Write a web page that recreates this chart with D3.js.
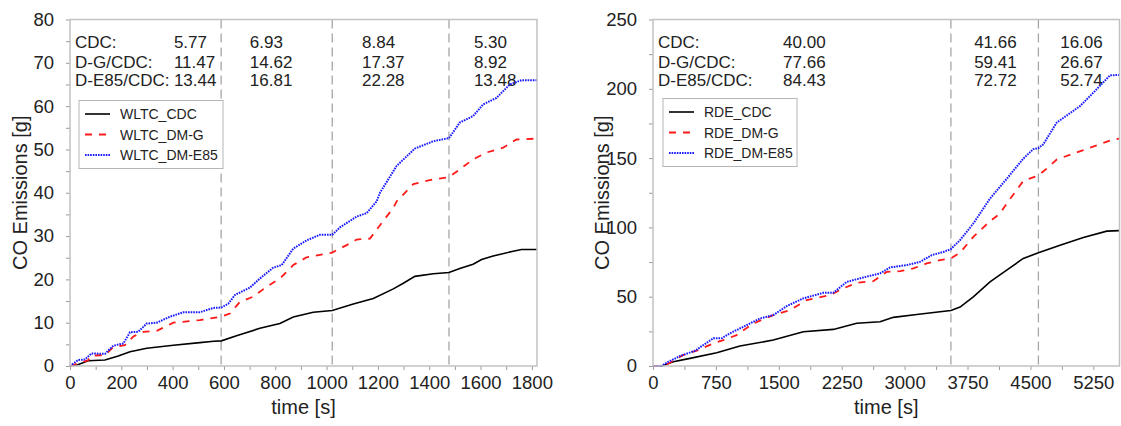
<!DOCTYPE html>
<html lang="en">
<head>
    <meta charset="utf-8">
    <style>
        body { margin: 0; background: #fff; }
        svg { font-family: "Liberation Sans", Arial, sans-serif; }
        .frame { fill: none; stroke: #c2c2c2; stroke-width: 1.5; }
        .tick line { stroke: #9a9a9a; }
        .tick text { fill: #222; font-size: 18.5px; }
        .axis .domain { display: none; }
        .title { fill: #222; font-size: 20px; }
        .note { fill: #222; font-size: 17px; }
        .phase { stroke: #a6a6a6; stroke-width: 1.3; stroke-dasharray: 9,5; }
        .legend rect { fill: #fff; stroke: #b5b5b5; stroke-width: 1; }
        .legend text { fill: #222; font-size: 14px; }
    </style>
    <script src="https://d3js.org/d3.v7.min.js"></script>
</head>
<body>
    <svg width="1121" height="426"></svg>
    <script>
        // ---- data ----
        var rowLabels = ["CDC:", "D-G/CDC:", "D-E85/CDC:"];

        var wltcPhases = [589, 1022, 1477];
        var wltcNotes = [
            ["5.77", "6.93", "8.84", "5.30"],
            ["11.47", "14.62", "17.37", "8.92"],
            ["13.44", "16.81", "22.28", "13.48"]
        ];
        var wltcSeries = ["WLTC_CDC", "WLTC_DM-G", "WLTC_DM-E85"];

        var wltcCDC = [[0,0],[30,0.3],[71,1.2],[136,1.4],[188,2.3],[234,3.3],[299,4.1],[403,4.8],[506,5.4],
            [560,5.7],[590,5.8],[649,7.0],[740,8.7],[818,9.8],[870,11.3],[948,12.4],[1022,12.8],[1104,14.3],
            [1182,15.6],[1260,17.8],[1299,19.1],[1344,20.7],[1416,21.3],[1477,21.6],[1519,22.5],[1571,23.5],
            [1604,24.6],[1649,25.4],[1727,26.5],[1760,26.9],[1820,26.9]];
        var wltcDMG = [[0,0],[52,1.0],[70,1.3],[84,2.4],[136,2.5],[169,4.4],[214,4.8],[247,6.8],[286,7.9],
            [338,8.1],[403,10.0],[506,10.6],[590,11.4],[623,12.1],[662,14.8],[714,16.0],[766,18.3],[818,20.2],
            [870,23.3],[922,25.1],[1022,26.2],[1078,27.9],[1117,29.2],[1169,29.4],[1208,32.5],[1260,36.5],
            [1273,38.0],[1338,42.0],[1416,43.1],[1477,43.6],[1519,45.4],[1571,47.7],[1624,49.3],[1688,50.4],
            [1740,52.3],[1820,52.5]];
        var wltcDME85 = [[0,0],[32,1.4],[58,1.5],[84,2.9],[136,2.8],[169,4.7],[208,5.2],[234,7.8],[266,7.9],
            [299,9.8],[338,10.0],[390,11.4],[442,12.4],[506,12.4],[558,13.4],[590,13.5],[617,14.4],[643,16.4],
            [701,18.1],[740,20.2],[792,22.7],[825,23.3],[870,27.1],[922,29.0],[974,30.3],[1022,30.3],[1052,32.0],
            [1104,34.0],[1117,34.5],[1156,35.3],[1195,38.0],[1208,40.0],[1273,46.2],[1344,50.2],[1416,51.9],
            [1477,52.6],[1519,56.2],[1571,57.7],[1610,60.4],[1662,61.9],[1714,65.0],[1760,66.0],[1820,66.0]];

        var rdePhases = [3552, 4595];
        var rdeNotes = [
            ["40.00", "41.66", "16.06"],
            ["77.66", "59.41", "26.67"],
            ["84.43", "72.72", "52.74"]
        ];
        var rdeSeries = ["RDE_CDC", "RDE_DM-G", "RDE_DM-E85"];

        var rdeCDC = [[0,0],[104,0],[242,3.1],[441,5.5],[760,9.6],[1037,14.4],[1434,18.7],[1792,24.7],
            [2150,26.4],[2429,30.8],[2707,31.9],[2866,35.1],[3144,37.2],[3422,39.1],[3552,40.0],[3661,42.5],
            [3819,49.9],[4018,60.7],[4217,69.2],[4415,77.6],[4595,81.7],[4853,87.2],[5131,92.7],[5410,97.3],
            [5560,97.7]];
        var rdeDMG = [[0,0],[123,0],[203,2.4],[361,7.9],[540,11.5],[719,16.3],[838,18.7],[997,22.3],
            [1196,30.7],[1434,36.7],[1633,40.3],[1832,47.6],[2110,51.1],[2269,56.0],[2429,60.0],[2627,61.2],
            [2786,67.9],[2945,68.4],[3104,70.4],[3263,74.0],[3422,76.4],[3552,77.7],[3661,81.8],[3819,93.2],
            [4018,104.5],[4137,110.0],[4217,117.2],[4415,133.5],[4595,137.5],[4694,142.4],[4813,149.0],
            [5131,155.8],[5488,163.5],[5560,164.0]];
        var rdeDME85 = [[0,0],[104,0],[163,2.4],[322,7.2],[501,11.0],[620,15.9],[719,20.0],[819,20.0],
            [918,23.6],[1077,28.3],[1276,34.3],[1434,36.7],[1594,43.2],[1792,48.8],[2031,52.8],[2150,52.8],
            [2310,60.7],[2508,63.9],[2707,66.8],[2826,71.1],[3025,72.8],[3184,75.1],[3323,80.0],[3462,82.3],
            [3552,84.4],[3661,90.8],[3819,102.8],[4018,120.8],[4217,135.0],[4415,149.6],[4534,156.5],
            [4595,157.2],[4654,160.0],[4813,175.6],[5091,187.5],[5250,197.2],[5449,209.7],[5560,210.0]];

        // ---- styles per series ----
        var styles = [
            { color: "#000", width: 1.6, dash: null },
            { color: "#ff1a1a", width: 1.8, dash: "7,7" },
            { color: "#1a1aff", width: 2, dash: "1.6,1" }
        ];

        var svg = d3.select("svg");

        function panel(opt) {
            var w = opt.width, h = 346.5;
            var g = svg.append("g").attr("transform", "translate(" + opt.left + ",19.5)");

            var x = d3.scaleLinear().domain([0, opt.xMax]).range([0, w]);
            var y = d3.scaleLinear().domain([0, opt.yMax]).range([h, 0]);

            // x axis (minor ticks unlabeled)
            g.append("g")
             .attr("class", "axis")
             .attr("transform", "translate(0," + h + ")")
             .call(d3.axisBottom(x)
                .tickValues(d3.range(0, opt.xMax, opt.xMinor))
                .tickSize(4).tickPadding(6)
                .tickFormat(function(d) { return d % opt.xMajor === 0 ? d : ""; }));

            g.append("g")
             .attr("class", "axis")
             .call(d3.axisLeft(y)
                .tickValues(d3.range(0, opt.yMax + 1, opt.yMinor))
                .tickSize(4).tickPadding(12)
                .tickFormat(function(d) { return d % opt.yMajor === 0 ? d : ""; }));

            g.append("text")
             .attr("class", "title")
             .attr("text-anchor", "middle")
             .attr("x", w / 2)
             .attr("y", 394.5)
             .text("time [s]");

            g.append("text")
             .attr("class", "title")
             .attr("text-anchor", "middle")
             .attr("transform", "translate(" + opt.yTitleX + "," + (h / 2) + ") rotate(-90)")
             .text("CO Emissions [g]");

            // phase separators
            g.selectAll(".phase")
             .data(opt.phases)
             .enter().append("line")
             .attr("class", "phase")
             .attr("x1", function(d) { return x(d); })
             .attr("x2", function(d) { return x(d); })
             .attr("y1", 0)
             .attr("y2", h);

            // per-phase numbers
            var rowY = [28.5, 48, 66.5];
            rowLabels.forEach(function(lab, i) {
                g.append("text").attr("class", "note")
                 .attr("x", 5).attr("y", rowY[i]).text(lab);
                opt.notes[i].forEach(function(v, j) {
                    g.append("text").attr("class", "note")
                     .attr("x", x(opt.noteAt[j])).attr("y", rowY[i]).text(v);
                });
            });

            var line = d3.line()
                .x(function(d) { return x(d[0]); })
                .y(function(d) { return y(d[1]); });

            opt.data.forEach(function(series, i) {
                g.append("path")
                 .datum(series)
                 .attr("fill", "none")
                 .attr("stroke", styles[i].color)
                 .attr("stroke-width", styles[i].width)
                 .attr("stroke-dasharray", styles[i].dash)
                 .attr("d", line);
            });

            g.append("rect")
             .attr("class", "frame")
             .attr("width", w)
             .attr("height", h);

            // legend
            var lg = g.append("g")
             .attr("class", "legend")
             .attr("transform", "translate(" + opt.legend[0] + "," + opt.legend[1] + ")");
            lg.append("rect").attr("width", opt.legend[2]).attr("height", 68);
            opt.names.forEach(function(name, i) {
                var yy = 13.5 + i * 20.5;
                lg.append("line")
                  .attr("x1", 6).attr("x2", 31)
                  .attr("y1", yy).attr("y2", yy)
                  .attr("stroke", styles[i].color)
                  .attr("stroke-width", styles[i].width)
                  .attr("stroke-dasharray", styles[i].dash);
                lg.append("text").attr("x", 41).attr("y", yy + 5).text(name);
            });
        }

        panel({
            left: 70, width: 467, xMax: 1820, yMax: 80,
            xMinor: 100, xMajor: 200, yMinor: 5, yMajor: 10,
            yTitleX: -43, phases: wltcPhases, notes: wltcNotes,
            noteAt: [405, 701, 1138, 1574],
            data: [wltcCDC, wltcDMG, wltcDME85], names: wltcSeries,
            legend: [9, 81, 144]
        });

        panel({
            left: 653, width: 466.5, xMax: 5562, yMax: 250,
            xMinor: 375, xMajor: 750, yMinor: 25, yMajor: 50,
            yTitleX: -44, phases: rdePhases, notes: rdeNotes,
            noteAt: [1551, 3829, 4855],
            data: [rdeCDC, rdeDMG, rdeDME85], names: rdeSeries,
            legend: [10, 79, 134]
        });
    </script>
</body>
</html>
